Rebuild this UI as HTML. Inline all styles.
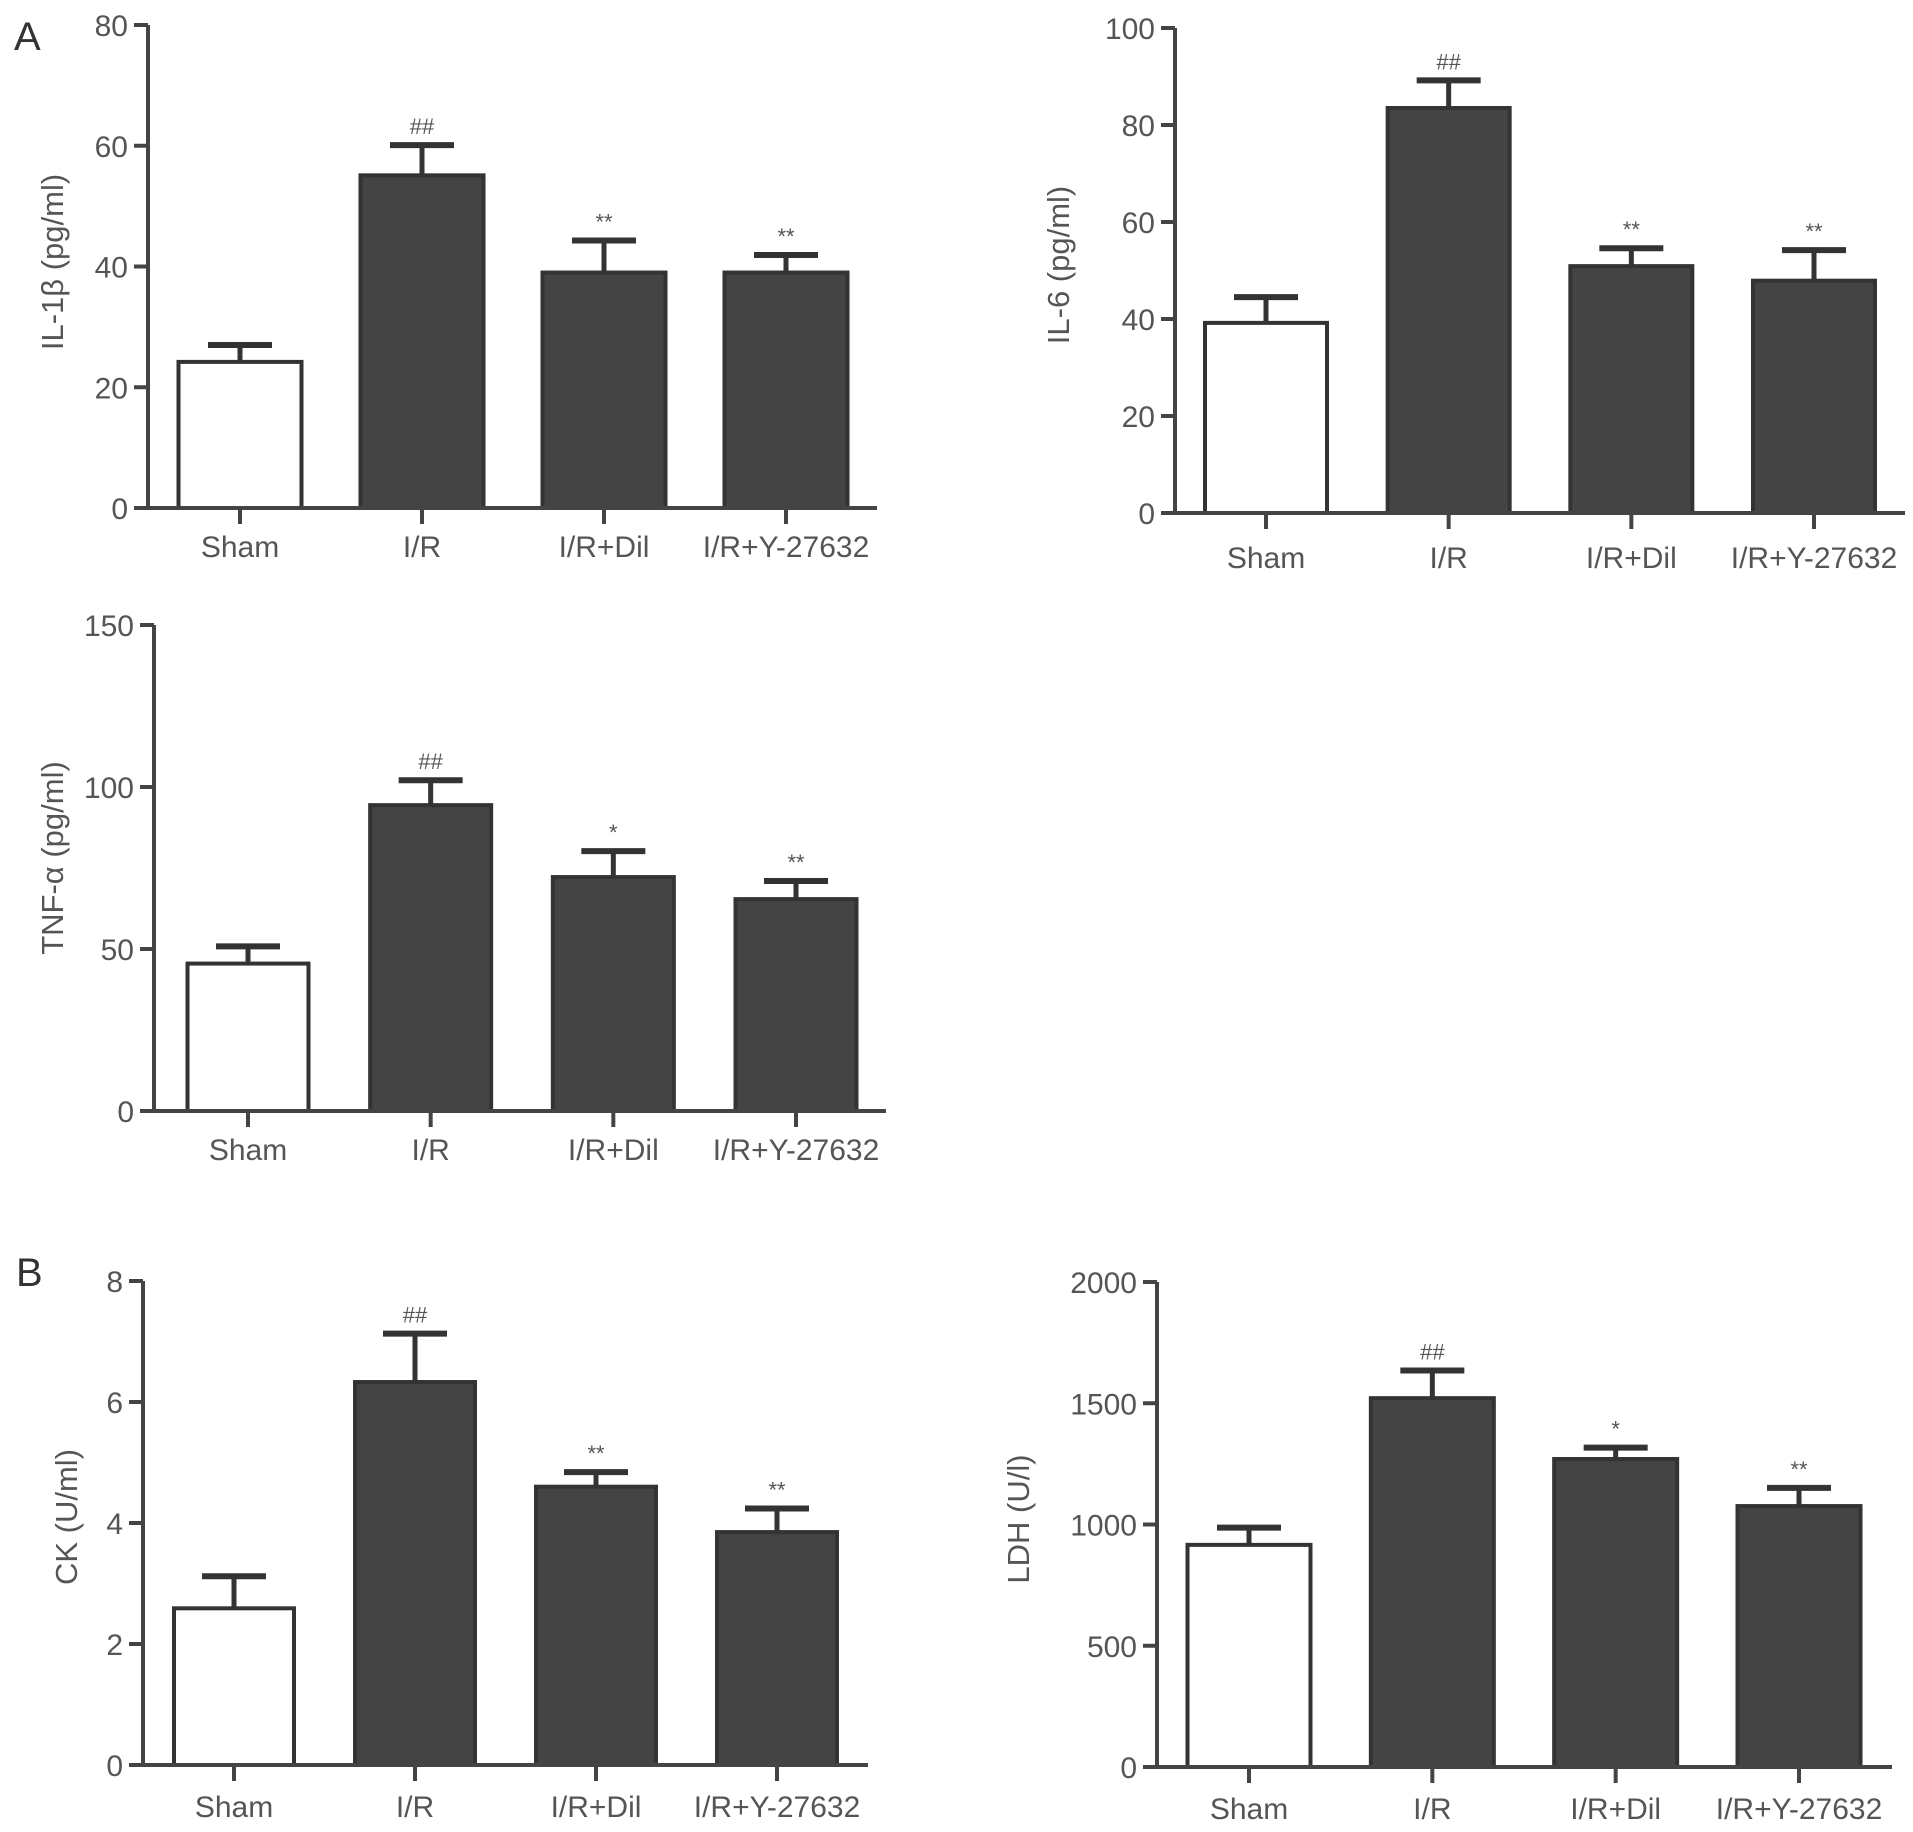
<!DOCTYPE html>
<html><head><meta charset="utf-8"><style>
html,body{margin:0;padding:0;background:#fff;}
svg{display:block;font-family:"Liberation Sans",Arial,sans-serif;}
</style></head><body>
<svg id="fig" width="1913" height="1832" viewBox="0 0 1913 1832">
<text x="14" y="50" font-size="40" fill="#333">A</text>
<text x="16" y="1286" font-size="40" fill="#333">B</text>
</svg>
<script>
const categories = ["Sham","I/R","I/R+Dil","I/R+Y-27632"];
const il1bValues = [24.2, 55.1, 39.0, 39.0];
const il1bErrors = [27.0, 60.1, 44.3, 41.9];
const il1bTicks = [0, 20, 40, 60, 80];
const il1bMarks = ["", "##", "**", "**"];
const il6Values = [39.2, 83.5, 50.9, 47.9];
const il6Errors = [44.5, 89.2, 54.6, 54.2];
const il6Ticks = [0, 20, 40, 60, 80, 100];
const il6Marks = ["", "##", "**", "**"];
const tnfValues = [45.5, 94.4, 72.2, 65.4];
const tnfErrors = [50.8, 102.1, 80.2, 71.0];
const tnfTicks = [0, 50, 100, 150];
const tnfMarks = ["", "##", "*", "**"];
const ckValues = [2.59, 6.33, 4.60, 3.85];
const ckErrors = [3.12, 7.13, 4.84, 4.24];
const ckTicks = [0, 2, 4, 6, 8];
const ckMarks = ["", "##", "**", "**"];
const ldhValues = [916, 1521, 1270, 1076];
const ldhErrors = [987, 1635, 1317, 1151];
const ldhTicks = [0, 500, 1000, 1500, 2000];
const ldhMarks = ["", "##", "*", "**"];

const NS = "http://www.w3.org/2000/svg";
const svg = document.getElementById("fig");
function mk(tag, attrs, parent){
  const e = document.createElementNS(NS, tag);
  for (const k in attrs) e.setAttribute(k, attrs[k]);
  parent.appendChild(e);
  return e;
}
function drawChart(id, title, values, errors, ticks, marks, L){
  const g = mk("g", {}, svg);
  
  
  const ymax = ticks[ticks.length-1];
  const y = v => L.y0 - (v / ymax) * (L.y0 - L.yTop);
  const step = (L.lastC - L.firstC) / (categories.length - 1);
  const x = i => L.firstC + i * step;
  const bw = L.bw;
  values.forEach((v, i) => {
    const cx = x(i);
    const eb = mk("line", {x1: cx, x2: cx, y1: y(v), y2: y(errors[i]), stroke: "#333", "stroke-width": 5}, g);
    
    
    const cap = mk("line", {x1: cx - 32, x2: cx + 32, y1: y(errors[i]), y2: y(errors[i]), stroke: "#333", "stroke-width": 6}, g);
    
    
    const r = mk("rect", {x: cx - bw/2, y: y(v), width: bw, height: L.y0 - y(v),
      fill: i === 0 ? "#fff" : "#444", stroke: "#333", "stroke-width": 4}, g);
    
    
    if (marks[i]) {
      const t = mk("text", {x: cx, y: y(errors[i]) - 11, "font-size": 22, fill: "#555", "text-anchor": "middle"}, g);
      t.textContent = marks[i];
      
      
    }
  });
  const ya = mk("line", {x1: L.ax, x2: L.ax, y1: L.yTop, y2: L.y0, stroke: "#444", "stroke-width": 4}, g);
  
  
  const xa = mk("line", {x1: L.ax - 14, x2: L.xEnd, y1: L.y0, y2: L.y0, stroke: "#444", "stroke-width": 4}, g);
  
  
  ticks.forEach(t => {
    const tk = mk("line", {x1: L.ax - 14, x2: L.ax, y1: y(t), y2: y(t), stroke: "#444", "stroke-width": 4}, g);
    
    
    const tl = mk("text", {x: L.ax - 20, y: y(t) + 11, "font-size": 30, fill: "#555", "text-anchor": "end"}, g);
    tl.textContent = t;
    
    
  });
  categories.forEach((c, i) => {
    const tk = mk("line", {x1: x(i), x2: x(i), y1: L.y0, y2: L.y0 + 16, stroke: "#444", "stroke-width": 4}, g);
    
    
    const tl = mk("text", {x: x(i), y: L.labelY, "font-size": 30, fill: "#555", "text-anchor": "middle"}, g);
    tl.textContent = c;
    
    
  });
  const tt = mk("text", {x: 0, y: 0, "font-size": 31, fill: "#555", "text-anchor": "middle",
    transform: "translate(" + L.titleX + "," + L.titleY + ") rotate(-90)"}, g);
  tt.textContent = title;
  
  
}
drawChart("il1b", "IL-1β (pg/ml)", il1bValues, il1bErrors, il1bTicks, il1bMarks,
  {ax:148, y0:508, yTop:25, xEnd:877, firstC:240, lastC:786, bw:123, labelY:557, titleX:63, titleY:262});
drawChart("il6", "IL-6 (pg/ml)", il6Values, il6Errors, il6Ticks, il6Marks,
  {ax:1175, y0:513, yTop:28, xEnd:1905, firstC:1266, lastC:1814, bw:122, labelY:568, titleX:1069, titleY:265});
drawChart("tnf", "TNF-α (pg/ml)", tnfValues, tnfErrors, tnfTicks, tnfMarks,
  {ax:154, y0:1111, yTop:625, xEnd:886, firstC:248, lastC:796, bw:121, labelY:1160, titleX:63, titleY:858});
drawChart("ck", "CK (U/ml)", ckValues, ckErrors, ckTicks, ckMarks,
  {ax:143, y0:1765, yTop:1281, xEnd:868, firstC:234, lastC:777, bw:120, labelY:1817, titleX:77, titleY:1517});
drawChart("ldh", "LDH (U/l)", ldhValues, ldhErrors, ldhTicks, ldhMarks,
  {ax:1157, y0:1767, yTop:1282, xEnd:1892, firstC:1249, lastC:1799, bw:123, labelY:1819, titleX:1029, titleY:1519});
</script>
</body></html>
